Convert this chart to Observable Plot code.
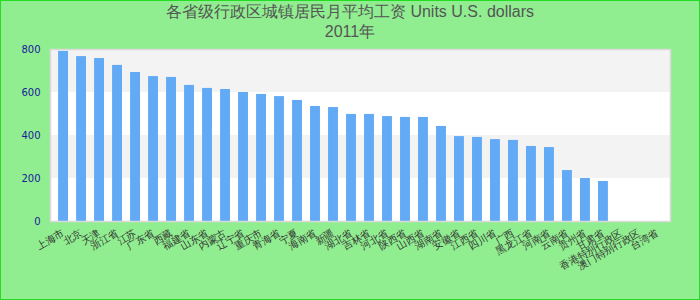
<!DOCTYPE html>
<html>
<head>
<meta charset="utf-8">
<script src="https://cdn.jsdelivr.net/npm/d3@7"></script>
<script src="https://cdn.jsdelivr.net/npm/@observablehq/plot@0.6"></script>
<style>
  html, body { margin: 0; padding: 0; }
  #chart {
    width: 700px; height: 300px; box-sizing: border-box;
    background: #90ee90; border: 1px solid #22dd22; overflow: hidden;
  }
  #title {
    font-family: "Liberation Sans", Arial, sans-serif; font-size: 16px;
    color: #555; text-align: center; line-height: 20px; padding-top: 1px; height: 41px;
  }
  svg { display: block; }
</style>
</head>
<body>
<div id="chart">
  <div id="title"><div id="t1"></div><div id="t2"></div></div>
</div>
<script>
const titleLine1 = "各省级行政区城镇居民月平均工资 Units U.S. dollars";
const titleLine2 = "2011年";

const categories = [
  "上海市", "北京", "天津", "浙江省", "江苏", "广东省", "西藏", "福建省", "山东省", "内蒙古",
  "辽宁省", "重庆市", "青海省", "宁夏", "海南省", "新疆", "湖北省", "吉林省", "河北省", "陕西省",
  "山西省", "湖南省", "安徽省", "江西省", "四川省", "广西", "黑龙江省", "河南省", "云南省", "贵州省",
  "甘肃省", "香港特别行政区", "澳门特别行政区", "台湾省"
];
const values = [
  791, 767, 758, 726, 693, 674, 670, 633, 619, 614,
  600, 591, 581, 563, 535, 530, 498, 498, 488, 484,
  484, 442, 395, 391, 381, 377, 349, 344, 237, 200,
  186, null, null, null
];
const yTicks = [0, 200, 400, 600, 800];
const bandEdges = [[200, 400], [600, 800]];

document.getElementById("t1").textContent = titleLine1;
document.getElementById("t2").textContent = titleLine2;

const data = categories.map((c, i) => ({name: c, value: values[i]}));
const bands = bandEdges.map(([a, b]) => ({y1: a, y2: b}));

const chart = Plot.plot({
  width: 698,
  height: 257,
  marginLeft: 49,
  marginRight: 29,
  marginTop: 6,
  marginBottom: 79,
  style: {background: "transparent", fontFamily: "DejaVu Sans, sans-serif"},
  x: {domain: categories, padding: 0.45, label: null},
  y: {domain: [0, 800], label: null},
  marks: [
    Plot.frame({fill: "white"}),
    Plot.rectY(bands, {y1: "y1", y2: "y2", fill: "#f3f3f3"}),
    Plot.barY(data.filter(d => d.value != null), {x: "name", y: "value", fill: "#62aaf5"}),
    Plot.frame({stroke: "#d9d9d9", strokeWidth: 1.5}),
    Plot.axisY({ticks: yTicks, tickSize: 0, tickPadding: 10, fontSize: 10, color: "#1a1a9a", label: null}),
    Plot.axisX({tickSize: 0, tickPadding: 11, tickRotate: -30, fontSize: 10, color: "#333", label: null})
  ]
});
document.getElementById("chart").appendChild(chart);
</script>
</body>
</html>
